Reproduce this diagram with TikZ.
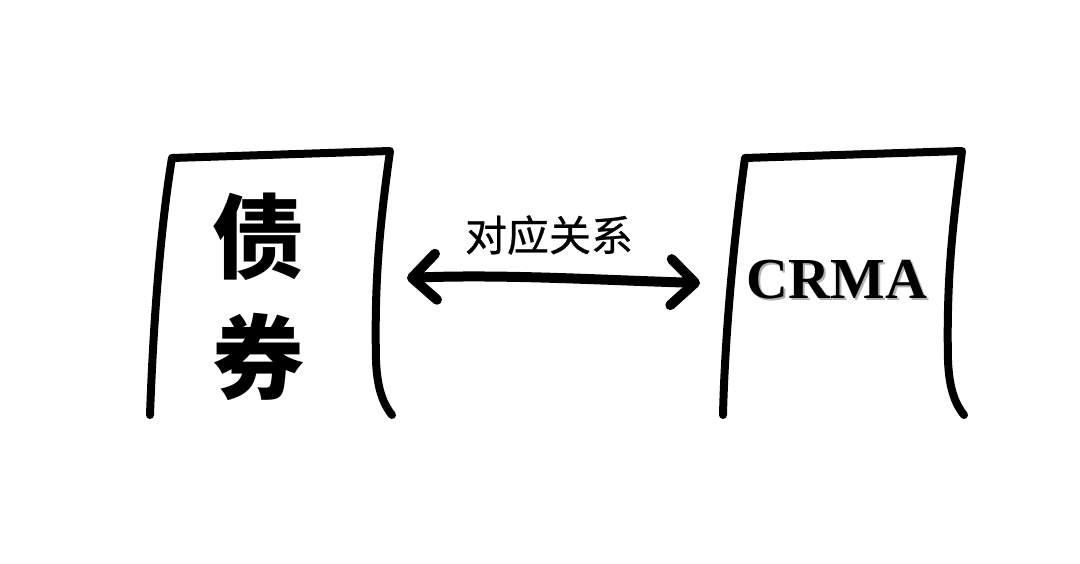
\documentclass[tikz,border=0pt]{standalone}
\usepackage{fontspec}
\newfontfamily\cjk[FakeBold=0.6]{Noto Sans CJK SC}
\newfontfamily\cjkbold{Noto Sans CJK SC Black}
\setmainfont{Liberation Serif}
\usetikzlibrary{arrows.meta}
\begin{document}
\begin{tikzpicture}[x=1pt,y=-1pt,
  sketch/.style={line width=8pt,line cap=round,line join=round},
  bigchar/.style={font=\cjkbold\fontsize{92}{92}\selectfont,inner sep=0pt},
  labeltext/.style={font=\cjk\fontsize{42}{42}\selectfont,inner sep=0pt},
  crma/.style={font=\bfseries\fontsize{58}{58}\selectfont,inner sep=0pt}]
\useasboundingbox[fill=white] (0,0) rectangle (1080,564);
% left box
\draw[sketch] (150,415) .. controls (153,330) and (160,230) .. (172,158)
  -- (390,151) .. controls (382,210) and (374,270) .. (376,360)
  .. controls (377,390) and (384,405) .. (392,415);
% right box
\draw[sketch] (723,415) .. controls (725,330) and (735,230) .. (745,158)
  -- (962,151) .. controls (955,210) and (946,270) .. (948,360)
  .. controls (949,390) and (956,405) .. (964,415);
\node[bigchar] (zhai) at (258,237) {债};
\node[bigchar] (quan) at (258,357) {券};
\node[crma,text=gray!60] at (839,282) {CRMA};
\node[crma] (crma) at (837,280) {CRMA};
\coordinate (aL) at (407,278);
\coordinate (aR) at (700,283);
\draw[line width=10pt,line cap=round,
  {Straight Barb[length=24pt,width=46pt,line cap=round,line join=round]}-{Straight Barb[length=24pt,width=46pt,line cap=round,line join=round]}]
  (aL) .. controls (500,274) and (600,280) .. (aR);
\node[labeltext] (rel) at (549,235) {对应关系};
\end{tikzpicture}
\end{document}
